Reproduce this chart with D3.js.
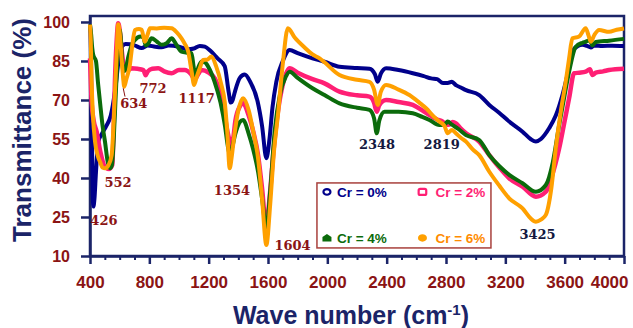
<!DOCTYPE html>
<html>
<head>
<meta charset="utf-8">
<script src="https://cdn.jsdelivr.net/npm/d3@7"></script>
<style>
  body { margin: 0; background: #fff; }
  text { font-family: "Liberation Sans", Arial, sans-serif; font-weight: bold; }
</style>
</head>
<body>
<div class="chart"></div>
<script>
// FTIR spectra, wave number (cm-1) vs transmittance (%)
var cr0 = [[400,99],[406,90],[412,60],[418,35],[423,29],[430,32],[440,42],[456,54],[480,57],[510,60],[540,64],[570,74],[595,86],[615,90.5],[640,91.5],[700,91],[748,90],[790,91],[840,90.5],[882,90.3],[930,91],[1000,90.5],[1060,89.5],[1100,89.8],[1140,90.8],[1174,90.5],[1210,89],[1260,86],[1308,83],[1335,73],[1349,69],[1362,70],[1376,73],[1410,78.5],[1443,79.8],[1480,77],[1530,69.4],[1560,60],[1589,47.6],[1610,55],[1630,67],[1656,77],[1700,85],[1746,89.2],[1800,88],[1900,86],[1981,84.7],[2082,82.8],[2200,82.3],[2284,82],[2320,80],[2340,77],[2360,80],[2396,82.2],[2480,81.5],[2576,80.3],[2650,79.2],[2700,78.3],[2740,78],[2780,76.5],[2811,76.5],[2840,77],[2867,75.7],[2900,74.8],[2935,73.8],[3024,71.9],[3092,68.1],[3160,65],[3226,61.7],[3316,57.8],[3370,55],[3406,54],[3440,55],[3495,59.1],[3540,64],[3585,71.9],[3620,80],[3652,88.6],[3690,90.8],[3719,91.2],[3750,90.8],[3776,90.2],[3800,91],[3854,90.8],[3920,90.9],[4000,90.8]];

var cr2 = [[400,86],[405,78],[411,69],[425,62],[445,57.8],[470,50],[501,44.3],[530,43.5],[550,45],[560,60],[568,77],[580,93],[590,99.5],[600,97],[612,90],[625,84],[636,82],[660,81.5],[681,82.2],[720,82],[760,81.5],[775,79.5],[790,81],[820,82],[860,82.2],[900,81],[950,80.3],[1000,81.5],[1039,81.5],[1080,80],[1107,78],[1130,80],[1151,81.5],[1200,80.5],[1241,78.3],[1280,72],[1308,64.2],[1330,57],[1353,52.7],[1365,55],[1380,62],[1410,67.5],[1432,68.7],[1470,64],[1500,58],[1533,48.8],[1560,36],[1589,20.7],[1610,32],[1640,52],[1667,65.5],[1700,76],[1746,82.2],[1800,80.5],[1900,78],[1981,76.4],[2082,73.2],[2200,71.8],[2284,71.3],[2315,69],[2333,65.5],[2350,68],[2396,70],[2480,69.2],[2576,68.1],[2640,66],[2688,64.2],[2740,62.5],[2777,61.7],[2800,60.5],[2825,60.6],[2845,61.5],[2867,61],[2900,59],[2935,57.2],[3024,54],[3092,48.8],[3160,44],[3226,39.9],[3316,36.7],[3406,32.8],[3473,34.7],[3510,40],[3563,51.4],[3600,62],[3630,70.7],[3664,80.3],[3700,80.5],[3742,80.9],[3770,81.8],[3787,79.6],[3810,80.5],[3860,81],[3899,81.5],[4000,82]];

var cr4 = [[400,99],[408,95],[415,90],[422,87.3],[440,85],[455,76],[467,69.4],[485,60],[501,54],[520,46],[535,43.7],[548,45],[560,55],[572,70],[580,80],[590,92],[600,97],[610,92],[618,84],[626,81],[640,82],[660,87],[680,91],[703,93.1],[740,94.4],[760,94],[775,91],[790,91.5],[815,93.7],[850,92.5],[882,91.2],[920,92],[950,93.7],[980,91.5],[1017,88.6],[1060,88.2],[1084,88],[1098,83],[1110,79],[1130,82.5],[1151,84.7],[1174,84.5],[1200,82.5],[1240,77],[1280,69],[1310,60],[1330,52],[1342,49],[1355,51],[1380,57],[1410,61.5],[1432,62.3],[1470,57],[1500,51],[1533,42.4],[1560,32],[1589,20.7],[1615,35],[1645,58],[1680,72],[1720,79],[1746,80.9],[1800,78.5],[1900,74.5],[1981,71.9],[2082,68.7],[2200,67],[2284,66.2],[2315,63],[2333,57.2],[2350,62],[2385,65.5],[2480,65.5],[2576,64.9],[2640,63.5],[2688,62.3],[2755,60.4],[2790,60.5],[2811,61.7],[2840,60.5],[2880,59],[2935,56.5],[3024,54.6],[3092,48.8],[3160,44.5],[3226,41.2],[3316,38],[3406,34.7],[3473,37.3],[3520,46],[3563,60.4],[3600,72],[3630,80.9],[3675,90.5],[3720,92],[3742,92.4],[3770,93],[3787,91],[3810,92.3],[3900,92.8],[4000,93.5]];

var cr6 = [[400,99],[405,93],[411,77],[420,64],[434,54],[450,49],[467,46.3],[485,44],[501,43.7],[525,45],[546,48.8],[560,62],[570,75],[580,88],[590,99.1],[600,96],[613,86],[624,78],[631,75.1],[645,78],[669,83.5],[685,91],[703,96.9],[730,97.3],[748,97],[770,92.4],[790,95.5],[804,97.6],[850,97.5],[900,97.8],[950,97.6],[985,96],[1017,93.7],[1040,91.5],[1062,88.6],[1085,81],[1102,75.8],[1120,79],[1140,82.2],[1162,85.4],[1190,85.5],[1219,86.7],[1250,83],[1285,76],[1308,69.4],[1325,58],[1342,43.7],[1355,48],[1370,55],[1400,66],[1432,70.7],[1470,66],[1500,58],[1533,47.6],[1560,32],[1589,14.2],[1615,30],[1640,50],[1667,64.2],[1700,84],[1734,97.6],[1780,94],[1850,90],[1900,87.5],[1948,86],[1981,84.5],[2082,79.6],[2200,77.8],[2284,77],[2315,74],[2340,68.1],[2360,73],[2396,75.8],[2480,74],[2553,71.9],[2620,69],[2666,66.8],[2720,63.5],[2755,61.7],[2790,60],[2811,57.2],[2840,58.5],[2870,57],[2900,55.5],[2935,54],[2980,51],[3024,48.8],[3092,42.4],[3160,37],[3226,32.2],[3316,28.3],[3370,24.5],[3406,23.2],[3440,24],[3473,25.8],[3510,36],[3540,51.4],[3575,66],[3607,77],[3630,86],[3652,93.7],[3697,94.4],[3742,97.6],[3760,95],[3776,92.4],[3800,95],[3832,96.9],[3900,96.2],[3950,97],[4000,97.5]];

var seriesNames = [`Cr = 0%`, `Cr = 2%`, `Cr = 4%`, `Cr = 6%`];
var seriesData = [cr0, cr2, cr4, cr6];
var colors = [`#00008b`, `#ff1f74`, `#0b6b0b`, `#ffa000`];

var xTicks = [400, 800, 1200, 1600, 2000, 2400, 2800, 3200, 3600, 4000];
var yTicks = [10, 25, 40, 55, 70, 85, 100];

// peak labels: [x position (cm-1), y position (%), text, colour group]
var peakLabels = [
  [494, 21.9, `426`, 0], [589, 36.5, `552`, 0], [695, 67.1, `634`, 0],
  [825, 72.5, `772`, 0], [1119, 68.7, `1117`, 0], [1357, 33.5, `1354`, 0],
  [1765, 12.3, `1604`, 0], [2335, 51.2, `2348`, 1], [2771, 51.2, `2819`, 1],
  [3417, 16.5, `3425`, 1]
];

var margin = {top: 16, bottom: 72, left: 90, right: 9};
var fullWidth = 633, fullHeight = 328;
var width = fullWidth - margin.left - margin.right;
var height = fullHeight - margin.top - margin.bottom;

var svg = d3.select(`.chart`)
    .append(`svg`)
    .attr(`width`, fullWidth)
    .attr(`height`, fullHeight)
    .append(`g`)
    .attr(`transform`, `translate(${margin.left},${margin.top})`);

var xScale = d3.scaleLinear().domain([400, 4000]).range([0, width]);
var yScale = d3.scaleLinear().domain([10, 102.3]).range([height, 0]);

var navy = `#1b2468`;
var maroon = `#8b1414`;

// minor x ticks
var minor = d3.range(500, 4000, 100).filter(d => d % 400 !== 0);
svg.append(`g`)
    .attr(`transform`, `translate(0, ${height})`)
    .call(d3.axisBottom(xScale).tickValues(minor).tickSize(4).tickFormat(``).tickSizeOuter(0))
    .call(g => g.select(`.domain`).remove())
    .call(g => g.selectAll(`line`).attr(`stroke`, navy).attr(`stroke-width`, 2));

var xAxis = svg.append(`g`)
    .attr(`transform`, `translate(0, ${height})`)
    .call(d3.axisBottom(xScale).tickValues(xTicks).tickFormat(d3.format(`d`))
      .tickSize(8).tickPadding(12).tickSizeOuter(0));

var yAxis = svg.append(`g`)
    .call(d3.axisLeft(yScale).tickValues(yTicks).tickSize(9).tickPadding(11).tickSizeOuter(0));

[xAxis, yAxis].forEach(a => {
  a.selectAll(`line`).attr(`stroke`, navy).attr(`stroke-width`, 2.5);
  a.select(`.domain`).attr(`stroke`, navy).attr(`stroke-width`, 2.5);
  a.selectAll(`text`).attr(`fill`, maroon).style(`font-size`, `16px`);
});
xAxis.selectAll(`text`).style(`font-size`, `17px`);
// last label sits inside the right edge
xAxis.selectAll(`.tick text`).filter(d => d == 4000).attr(`text-anchor`, `end`).attr(`x`, 4);

svg.append(`rect`)
    .attr(`width`, width)
    .attr(`height`, height)
    .attr(`fill`, `none`)
    .attr(`stroke`, navy)
    .attr(`stroke-width`, 2.5);

var line = d3.line()
    .x(d => xScale(d[0]))
    .y(d => yScale(d[1]))
    .curve(d3.curveMonotoneX);

seriesData.forEach((s, i) => {
  svg.append(`path`)
      .datum(s)
      .attr(`d`, line)
      .attr(`fill`, `none`)
      .attr(`stroke`, colors[i])
      .attr(`stroke-width`, i == 1 ? 4.5 : 4)
      .attr(`stroke-linejoin`, `round`);
});

// peak labels
svg.selectAll(`.peak`)
    .data(peakLabels)
    .enter()
    .append(`text`)
    .attr(`class`, `peak`)
    .attr(`x`, d => xScale(d[0]))
    .attr(`y`, d => yScale(d[1]))
    .attr(`text-anchor`, `middle`)
    .style(`font-family`, `"DejaVu Serif", serif`)
    .style(`font-size`, `13px`)
    .attr(`fill`, d => d[3] == 0 ? maroon : `#14183f`)
    .text(d => d[2]);

// little leader line for 634
svg.append(`line`)
    .attr(`x1`, xScale(624)).attr(`y1`, yScale(74.5))
    .attr(`x2`, xScale(636)).attr(`y2`, yScale(71.3))
    .attr(`stroke`, maroon).attr(`stroke-width`, 1);

// legend
var legend = svg.append(`g`).attr(`transform`, `translate(${xScale(1930)}, ${yScale(38.1)})`);
legend.append(`rect`)
    .attr(`width`, 174).attr(`height`, 65)
    .attr(`fill`, `none`)
    .attr(`stroke`, `#a8403c`).attr(`stroke-width`, 1.5);

var legPos = [[10, 9], [105.5, 9], [10, 55], [105.5, 55]];
var textX = [20, 118.5, 20, 118.5];
var textY = [13.7, 13.7, 60, 60];
var pentagon = `M-4.5,3.5 L4.5,3.5 L4.5,-1 L0,-4 L-4.5,-1 Z`;
legPos.forEach((p, i) => {
  var g = legend.append(`g`).attr(`transform`, `translate(${p[0]},${p[1]})`);
  if (i == 0) {
    g.append(`ellipse`).attr(`rx`, 3.5).attr(`ry`, 2.8)
        .attr(`fill`, `white`).attr(`stroke`, colors[i]).attr(`stroke-width`, 2.2);
  } else if (i == 1) {
    g.append(`rect`).attr(`x`, -3.8).attr(`y`, -3).attr(`width`, 7.6).attr(`height`, 6).attr(`rx`, 1.5)
        .attr(`fill`, `white`).attr(`stroke`, colors[i]).attr(`stroke-width`, 2.2);
  } else if (i == 2) {
    g.append(`path`).attr(`d`, pentagon).attr(`fill`, colors[i]);
  } else {
    g.append(`ellipse`).attr(`rx`, 4.5).attr(`ry`, 3.8).attr(`fill`, colors[i]);
  }
  legend.append(`text`)
      .attr(`x`, textX[i])
      .attr(`y`, textY[i])
      .attr(`fill`, i == 3 ? `#ff8c00` : colors[i])
      .style(`font-size`, `13.5px`)
      .text(seriesNames[i]);
});

// axis titles
svg.append(`text`)
    .attr(`transform`, `translate(${-59}, ${height / 2 - 6}) rotate(-90)`)
    .attr(`text-anchor`, `middle`)
    .attr(`fill`, navy)
    .style(`font-size`, `26px`)
    .text(`Transmittance (%)`);

var xt = svg.append(`text`)
    .attr(`x`, width / 2 - 6)
    .attr(`y`, height + 68)
    .attr(`text-anchor`, `middle`)
    .attr(`fill`, navy)
    .style(`font-size`, `25px`);
xt.append(`tspan`).text(`Wave number (cm`);
xt.append(`tspan`).attr(`dy`, -9).style(`font-size`, `15px`).text(`-1`);
xt.append(`tspan`).attr(`dy`, 9).text(`)`);
</script>
</body>
</html>
